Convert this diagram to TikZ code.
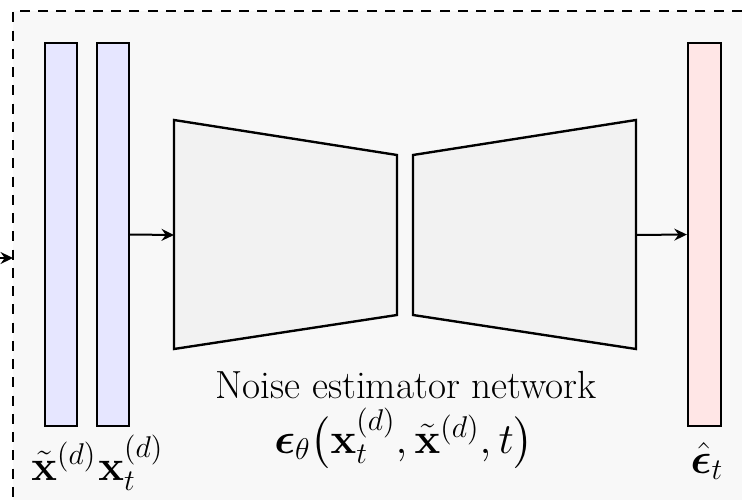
\documentclass[tikz,border=0pt]{standalone}
\usepackage{amsmath,bm}
\usetikzlibrary{arrows.meta}
\definecolor{bgcol}{HTML}{F8F8F8}
\definecolor{trapcol}{HTML}{F2F2F2}
\definecolor{inpcol}{HTML}{E6E6FF}
\definecolor{outcol}{HTML}{FFE6E6}
\tikzset{
  px/.style={x=0.4pt,y=-0.4pt},
  bar/.style={draw,line width=0.95pt,minimum width=12.8pt,minimum height=153pt,inner sep=0pt},
  trap/.style={draw,line width=0.95pt,fill=trapcol,line join=miter},
  conn/.style={line width=0.8pt,-{Stealth[length=5pt,width=4.8pt,inset=1.7pt]}},
  lab/.style={font=\LARGE,inner sep=0pt,anchor=base}
}
\begin{document}
\begin{tikzpicture}[px]
\useasboundingbox (0,0) rectangle (742,500);
\clip (0,0) rectangle (742,500);
% background frame
\fill[bgcol] (13,11) rectangle (760,520);
\draw[line width=0.8pt,dash pattern=on 4pt off 3.3pt] (760,11) -- (13,11) -- (13,520);
% input bars
\node[bar,fill=inpcol] (xtil) at (61,234.5) {};
\node[bar,fill=inpcol] (xt) at (113,234.5) {};
\node[bar,fill=outcol,minimum width=13.2pt] (eps) at (704.5,234.5) {};
% trapezoids
\draw[trap] (174,120) -- (397,155) -- (397,315) -- (174,349) -- cycle;
\draw[trap] (413,155) -- (636,120) -- (636,349) -- (413,315) -- cycle;
\coordinate (encin) at (174,235);
\coordinate (decout) at (636,235);
\coordinate (inA) at (-2,258);
\coordinate (inB) at (13,258);
% connectors
\draw[conn] (inA) -- (inB);
\draw[conn] (xt.east) -- (encin);
\draw[conn] (decout) -- (eps.west);
% labels
\node[lab,font=\fontsize{15.7}{19}\selectfont] (title) at (406,398) {Noise estimator network};
\node[lab] (formula) at (404,453) {$\bm{\epsilon}_\theta\bigl(\mathbf{x}_t^{(d)},\tilde{\mathbf{x}}^{(d)},t\bigr)$};
\node[lab] (lxtil) at (64,480) {$\tilde{\mathbf{x}}^{(d)}$};
\node[lab] (lxt) at (131,480) {$\mathbf{x}_t^{(d)}$};
\node[lab] (leps) at (707,473) {$\hat{\bm{\epsilon}}_t$};
\end{tikzpicture}
\end{document}
